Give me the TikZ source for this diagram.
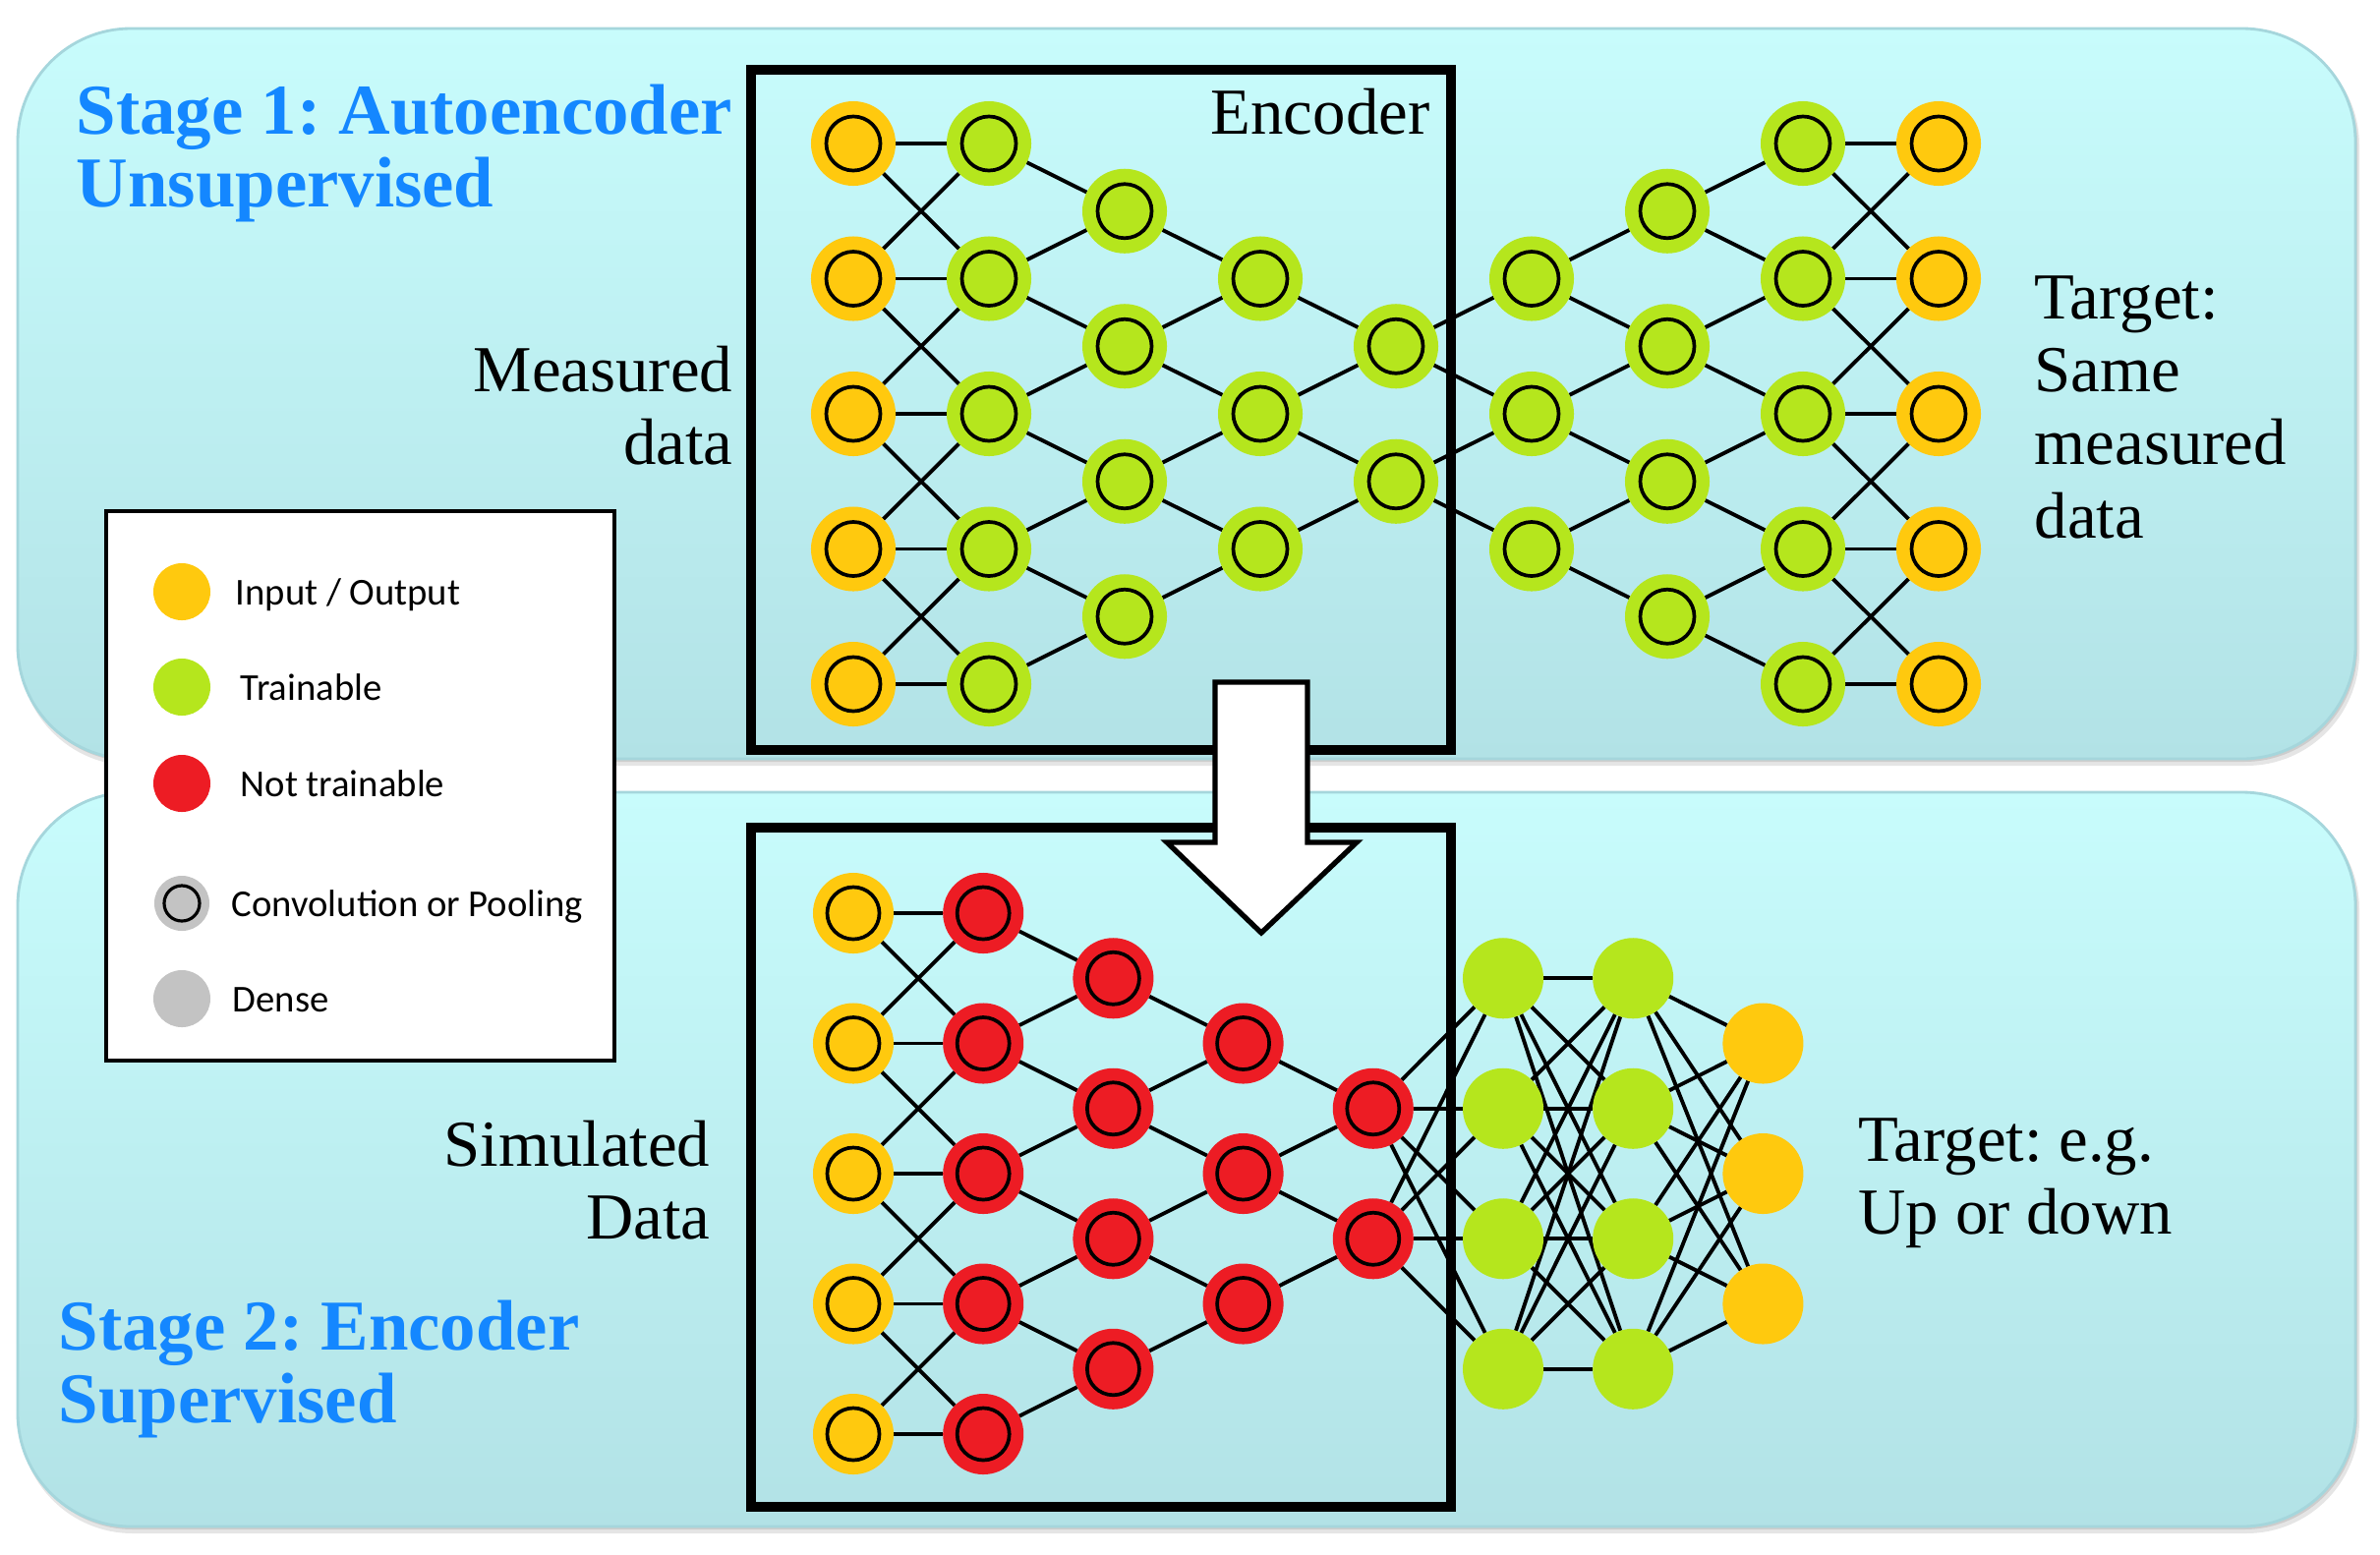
\documentclass[tikz,border=0pt]{standalone}
\usepackage{fontspec}
\setmainfont{Liberation Serif}
\newfontfamily\legfont{Carlito}
\frenchspacing
\definecolor{orng}{RGB}{255,201,14}
\definecolor{limen}{RGB}{181,230,29}
\definecolor{redn}{RGB}{237,28,36}
\definecolor{grayn}{RGB}{195,195,195}
\definecolor{paneltop}{RGB}{200,252,252}
\definecolor{panelbot}{RGB}{178,226,230}
\definecolor{panelline}{RGB}{165,214,220}
\definecolor{titleblue}{RGB}{20,135,255}
\pgfdeclarelayer{panel}
\pgfdeclarelayer{edges}
\pgfsetlayers{panel,edges,main}
\tikzset{
  conv/.style={circle, fill=#1, minimum size=0.86cm, inner sep=0pt, outer sep=0pt,
    path picture={\draw[line width=1.05pt] (path picture bounding box.center) circle (0.275cm);}},
  convs/.style={circle, fill=#1, minimum size=0.82cm, inner sep=0pt, outer sep=0pt,
    path picture={\draw[line width=1.05pt] (path picture bounding box.center) circle (0.265cm);}},
  dense/.style={circle, fill=#1, minimum size=0.82cm, inner sep=0pt, outer sep=0pt},
  conn/.style={line width=1.1pt, black},
  boxline/.style={draw=black, line width=2.6pt},
  lbl/.style={font=\fontsize{19}{19}\selectfont, inner sep=0pt},
  ttl/.style={font=\fontsize{20.7}{21}\selectfont\bfseries, text=titleblue, inner sep=0pt, anchor=base west},
  legtxt/.style={font=\legfont\fontsize{11}{13}\selectfont, inner sep=0pt, anchor=base west},
  legdot/.style={circle, fill=#1, minimum size=0.58cm, inner sep=0pt},
  panelbox/.style={rounded corners=1.15cm},
}
\begin{document}
\begin{tikzpicture}[x=0.01cm, y=-0.01cm]
\useasboundingbox (0,0) rectangle (2421,1581);
\begin{pgfonlayer}{panel}
  \fill[white] (0,0) rectangle (2421,1581);
  % shadows
  \fill[black, opacity=0.10, panelbox] (20,33) rectangle (2400,779);
  \fill[black, opacity=0.10, panelbox] (20,31) rectangle (2398,775);
  \fill[black, opacity=0.10, panelbox] (20,810) rectangle (2400,1560);
  \fill[black, opacity=0.10, panelbox] (20,808) rectangle (2398,1556);
  \shade[top color=paneltop, bottom color=panelbot, panelbox] (18,29) rectangle (2396,772);
  \draw[panelline, line width=0.8pt, panelbox] (18,29) rectangle (2396,772);
  \shade[top color=paneltop, bottom color=panelbot, panelbox] (18,806) rectangle (2396,1553);
  \draw[panelline, line width=0.8pt, panelbox] (18,806) rectangle (2396,1553);
\end{pgfonlayer}

% ---------- Stage 1 network ----------
\foreach \l/\n/\col in {0/5/orng,1/5/limen,2/4/limen,3/3/limen,4/2/limen,5/3/limen,6/4/limen,7/5/limen,8/5/orng} {
  \foreach \i in {1,...,\n} {
    \pgfmathsetmacro\xx{868+138*\l}
    \pgfmathsetmacro\yy{146+137.5*(\i-1+(5-\n)/2)}
    \node[conv=\col] (t\l-\i) at (\xx,\yy) {};
  }
}
% ---------- Stage 2 network ----------
\foreach \l/\n/\col in {0/5/orng,1/5/redn,2/4/redn,3/3/redn,4/2/redn} {
  \foreach \i in {1,...,\n} {
    \pgfmathsetmacro\xx{868+132.2*\l}
    \pgfmathsetmacro\yy{929+132.5*(\i-1+(5-\n)/2)}
    \node[convs=\col] (b\l-\i) at (\xx,\yy) {};
  }
}
\foreach \l/\n/\col in {5/4/limen,6/4/limen,7/3/orng} {
  \foreach \i in {1,...,\n} {
    \pgfmathsetmacro\xx{868+132.2*\l}
    \pgfmathsetmacro\yy{929+132.5*(\i-1+(5-\n)/2)}
    \node[dense=\col] (b\l-\i) at (\xx,\yy) {};
  }
}

\begin{pgfonlayer}{edges}
  % top: equal-size layers
  \foreach \a/\b in {0/1,7/8} {
    \foreach \i in {1,...,5} {\draw[conn] (t\a-\i) -- (t\b-\i);}
    \foreach \i in {1,...,4} {\pgfmathtruncatemacro\k{\i+1}
      \draw[conn] (t\a-\i) -- (t\b-\k); \draw[conn] (t\a-\k) -- (t\b-\i);}
  }
  % top: shrinking
  \foreach \a/\b/\n in {1/2/4,2/3/3,3/4/2} {
    \foreach \j in {1,...,\n} {\pgfmathtruncatemacro\k{\j+1}
      \draw[conn] (t\a-\j) -- (t\b-\j); \draw[conn] (t\a-\k) -- (t\b-\j);}
  }
  % top: growing
  \foreach \a/\b/\n in {4/5/2,5/6/3,6/7/4} {
    \foreach \i in {1,...,\n} {\pgfmathtruncatemacro\k{\i+1}
      \draw[conn] (t\a-\i) -- (t\b-\i); \draw[conn] (t\a-\i) -- (t\b-\k);}
  }
  % bottom encoder
  \foreach \i in {1,...,5} {\draw[conn] (b0-\i) -- (b1-\i);}
  \foreach \i in {1,...,4} {\pgfmathtruncatemacro\k{\i+1}
    \draw[conn] (b0-\i) -- (b1-\k); \draw[conn] (b0-\k) -- (b1-\i);}
  \foreach \a/\b/\n in {1/2/4,2/3/3,3/4/2} {
    \foreach \j in {1,...,\n} {\pgfmathtruncatemacro\k{\j+1}
      \draw[conn] (b\a-\j) -- (b\b-\j); \draw[conn] (b\a-\k) -- (b\b-\j);}
  }
  % bottom dense
  \foreach \i in {1,2} {\foreach \j in {1,...,4} {\draw[conn] (b4-\i) -- (b5-\j);}}
  \foreach \i in {1,...,4} {\foreach \j in {1,...,4} {\draw[conn] (b5-\i) -- (b6-\j);}}
  \foreach \i in {1,...,4} {\foreach \j in {1,...,3} {\draw[conn] (b6-\i) -- (b7-\j);}}
\end{pgfonlayer}

% encoder boxes
\draw[boxline] (764,71) rectangle (1476,763);
\draw[boxline] (764,842) rectangle (1476,1533);

% transfer arrow
\draw[fill=white, line width=1.5pt, miter limit=10] (1236,694) -- (1330,694) -- (1330,857) -- (1380,857) -- (1283,949) -- (1187,857) -- (1236,857) -- cycle;

% titles
\node[ttl] (s1a) at (77,136) {Stage 1: Autoencoder};
\node[ttl] (s1b) at (77,210) {Unsupervised};
\node[ttl] (s2a) at (59,1373) {Stage 2: Encoder};
\node[ttl] (s2b) at (59,1447) {Supervised};

% labels
\node[lbl, anchor=base west] (enc) at (1231,136) {Encoder};
\node[lbl, anchor=base east] (meas1) at (746,398) {Measured};
\node[lbl, anchor=base east] (meas2) at (746,472) {data};
\node[lbl, anchor=base west] (tg1) at (2069,324) {Target:};
\node[lbl, anchor=base west] (tg2) at (2069,398) {Same};
\node[lbl, anchor=base west] (tg3) at (2069,472) {measured};
\node[lbl, anchor=base west] (tg4) at (2069,547) {data};
\node[lbl, anchor=base east] (sim1) at (723,1186) {Simulated};
\node[lbl, anchor=base east] (sim2) at (723,1260) {Data};
\node[lbl, anchor=base west] (tt1) at (1890,1181) {Target: e.g.};
\node[lbl, anchor=base west] (tt2) at (1890,1255) {Up or down};

% legend
\draw[fill=white, line width=1.2pt] (108,520) rectangle (625,1079);
\node[legdot=orng] (lg1) at (185,602) {};
\node[legdot=limen] (lg2) at (185,699) {};
\node[legdot=redn] (lg3) at (185,797) {};
\node[circle, fill=grayn, minimum size=0.56cm, inner sep=0pt,
  path picture={\draw[line width=0.9pt] (path picture bounding box.center) circle (0.18cm);}] (lg4) at (185,919) {};
\node[legdot=grayn] (lg5) at (185,1016) {};
\node[legtxt] (lt1) at (239,615) {Input / Output};
\node[legtxt] (lt2) at (244,712) {Trainable};
\node[legtxt] (lt3) at (244,810) {Not trainable};
\node[legtxt] (lt4) at (235,932) {Convolution or Pooling};
\node[legtxt] (lt5) at (236,1029) {Dense};
\end{tikzpicture}
\end{document}
